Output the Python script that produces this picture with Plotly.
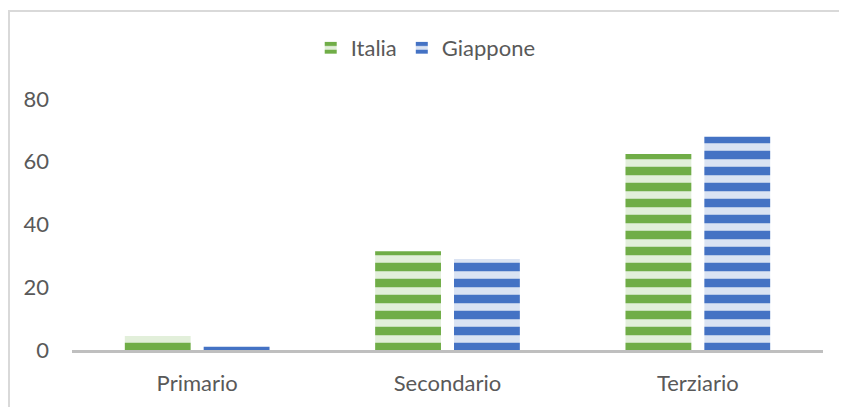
import plotly.graph_objects as go

settori = ["Primario", "Secondario", "Terziario"]
italia = [4.5, 31.5, 62.5]
giappone = [1.0, 29.0, 68.0]

font_name = "Lato"
grey_text = "#595959"

fig = go.Figure()

fig.add_trace(go.Bar(
    x=settori, y=italia, name="Italia",
    marker=dict(color="#E2EFDA", line=dict(width=0),
                pattern=dict(shape="-", bgcolor="#E2EFDA", fgcolor="#70AD47",
                             fgopacity=1, size=16, solidity=0.53)),
))
fig.add_trace(go.Bar(
    x=settori, y=giappone, name="Giappone",
    marker=dict(color="#DAE3F3", line=dict(width=0),
                pattern=dict(shape="-", bgcolor="#DAE3F3", fgcolor="#4472C4",
                             fgopacity=1, size=16, solidity=0.53)),
))

# page body has an 8px margin, so the figure is a bit smaller than the window
fig.update_layout(
    width=839, height=399,
    margin=dict(l=64, r=24, t=91, b=57),
    paper_bgcolor="white", plot_bgcolor="white",
    barmode="group", bargap=0.37, bargroupgap=0.165,
    font=dict(family=font_name, size=22, color=grey_text),
    showlegend=True,
    legend=dict(orientation="h", x=0.471, xanchor="center", y=1.203, yanchor="middle",
                font=dict(size=22, color=grey_text)),
    # chart border (left and top visible)
    shapes=[dict(type="rect", xref="paper", yref="paper",
                 x0=-0.0839, x1=1.2, y0=-0.3, y1=1.3506,
                 line=dict(color="#D9D9D9", width=2), layer="below")],
)

fig.update_xaxes(showgrid=False, showline=True, linecolor="#BFBFBF", linewidth=2.5,
                 ticks="", ticklabelstandoff=12, zeroline=False)
fig.update_yaxes(range=[0, 80], dtick=20, showgrid=False, showline=False,
                 zeroline=False, ticks="", ticklabelstandoff=22)

fig.write_html("out.html")
